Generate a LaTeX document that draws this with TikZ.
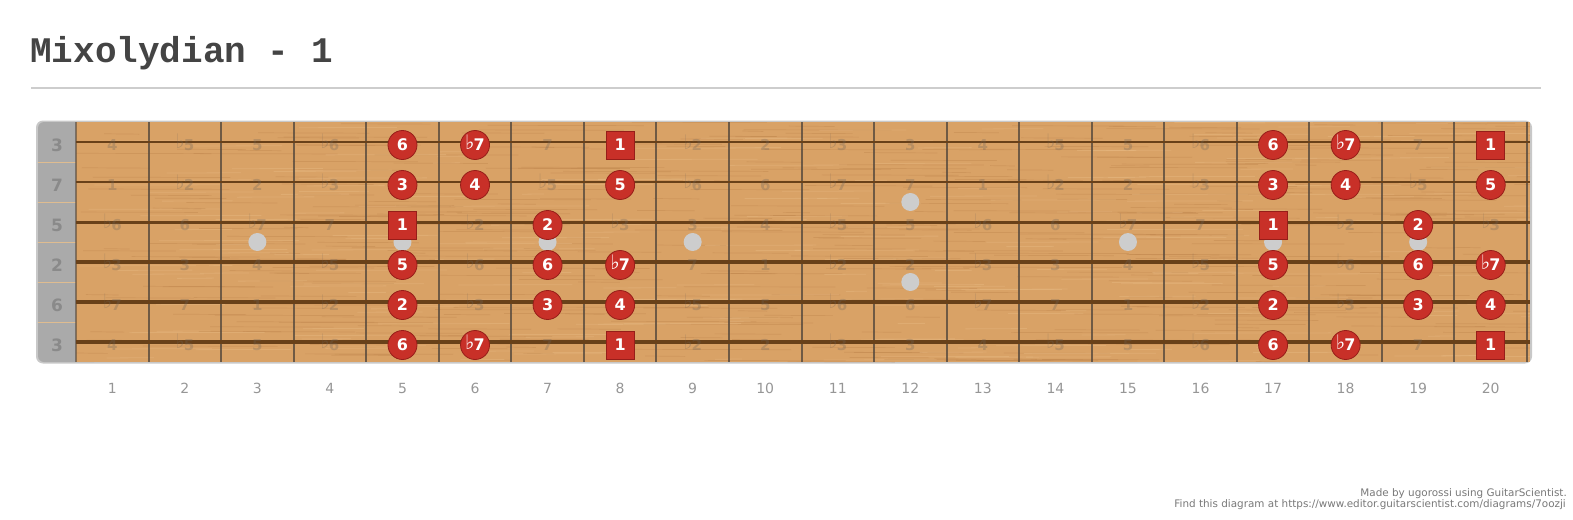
\documentclass[tikz,border=0pt]{standalone}
\usepackage{fontspec}
\setmainfont{DejaVu Sans}
\newfontfamily\titlefont{Liberation Mono}
\definecolor{wood}{RGB}{217,162,102}
\definecolor{wooddark}{RGB}{170,110,55}
\definecolor{woodlight}{RGB}{236,192,138}
\definecolor{stringcol}{RGB}{105,65,25}
\definecolor{fretcol}{RGB}{85,72,60}
\definecolor{nutgray}{RGB}{170,170,170}
\definecolor{nuttext}{RGB}{138,138,138}
\definecolor{framegray}{RGB}{200,200,200}
\definecolor{notered}{RGB}{200,48,40}
\definecolor{noteedge}{RGB}{150,30,25}
\definecolor{inlay}{RGB}{205,205,205}
\definecolor{titlegray}{RGB}{68,68,68}
\definecolor{sepgray}{RGB}{205,205,205}
\definecolor{numgray}{RGB}{150,150,150}
\definecolor{fadecol}{RGB}{110,100,90}
\newcommand\fl{\raisebox{1.5pt}[0pt][0pt]{\fontsize{20}{20}\selectfont ♭}\kern-1pt}
\newcommand\ivlname[1]{\ifcase#1 1\or \fl2\or 2\or \fl3\or 3\or 4\or \fl5\or 5\or \fl6\or 6\or \fl7\or 7\fi}
\newcommand\inscale[1]{\ifcase#1 1\or0\or1\or0\or1\or1\or0\or1\or0\or1\or1\or0\fi}
\tikzset{
  notecirc/.style={circle, fill=notered, draw=noteedge, line width=0.8pt, minimum size=29pt, inner sep=0pt, text=white, font=\bfseries\fontsize{16}{16}\selectfont},
  notesq/.style={rectangle, fill=notered, draw=noteedge, line width=0.8pt, minimum size=28pt, inner sep=0pt, text=white, font=\bfseries\fontsize{16}{16}\selectfont},
  fadelab/.style={inner sep=0pt, text=fadecol, text opacity=0.3, font=\bfseries\fontsize{15}{15}\selectfont},
  nutlab/.style={inner sep=0pt, text=nuttext, font=\bfseries\fontsize{17}{17}\selectfont},
  fretnum/.style={inner sep=0pt, text=numgray, font=\fontsize{14}{14}\selectfont},
  inlaydot/.style={circle, fill=inlay, minimum size=18pt, inner sep=0pt},
  credit/.style={inner sep=0pt, text=numgray!80!black, font=\fontsize{10.4}{11}\selectfont, anchor=base east}
}
\begin{document}
\begin{tikzpicture}[x=1pt,y=-1pt]
\useasboundingbox (0,0) rectangle (1573,519);
% title
\node[anchor=base west, inner sep=0pt, text=titlegray, font=\titlefont\bfseries\fontsize{36}{36}\selectfont] (title) at (30,63) {Mixolydian - 1};
\coordinate (sepL) at (31,88);
\coordinate (sepR) at (1541,88);
\draw[sepgray, line width=1.2pt] (sepL) -- (sepR);
% frame, nut, wood
\fill[framegray, rounded corners=7pt] (36,120.5) rectangle (1532,363.5);
\fill[nutgray, rounded corners=6pt] (38,122) rectangle (100,362);
\fill[wood] (76,122) rectangle (1530,362);
% grain
\pgfmathsetseed{7}
\begin{scope}
\clip (76,122) rectangle (1530,362);
\foreach \i in {1,...,420}{
  \pgfmathsetmacro\gx{76+rnd*1460}
  \pgfmathsetmacro\gy{122+rnd*240}
  \pgfmathsetmacro\gl{20+rnd*140}
  \draw[wooddark, opacity=0.22, line width=0.7pt] (\gx,\gy) -- ++(\gl,0.4);
}
\foreach \i in {1,...,250}{
  \pgfmathsetmacro\gx{76+rnd*1460}
  \pgfmathsetmacro\gy{122+rnd*240}
  \pgfmathsetmacro\gl{20+rnd*120}
  \draw[woodlight, opacity=0.35, line width=0.8pt] (\gx,\gy) -- ++(\gl,-0.3);
}
\end{scope}
% nut separators
\foreach \y in {162,202,242,282,322}{
  \draw[woodlight!80!nutgray, line width=0.5pt] (38,\y) -- (76,\y);
}
% nut labels
\foreach \s/\y/\l in {1/142/3,2/182/7,3/222/5,4/262/2,5/302/6,6/342/3}{
  \node[nutlab] (nut\s) at (57,\y+3) {\l};
}
% frets
\foreach \n in {1,...,20}{
  \pgfmathsetmacro\fx{76+72.55*\n}
  \draw[fretcol, opacity=0.8, line width=2pt] (\fx,122) -- (\fx,362);
}
\draw[fretcol, opacity=0.6, line width=1.2pt] (76,122) -- (76,362);
% inlay dots
\foreach \n/\y [count=\k] in {3/242,5/242,7/242,9/242,12/202,12/282,15/242,17/242,19/242}{
  \pgfmathsetmacro\fx{76+72.55*(\n-0.5)}
  \node[inlaydot] (dot\k) at (\fx,\y) {};
}
% strings
\foreach \s/\y/\w in {1/142/2.6,2/182/2.8,3/222/3,4/262/3.2,5/302/3.4,6/342/3.6}{
  \draw[stringcol, line width=\w pt] (76,\y) -- (1530,\y);
}
% notes and faded labels
\foreach \s/\y/\o in {1/142/4,2/182/11,3/222/7,4/262/2,5/302/9,6/342/4}{
  \foreach \n in {1,...,20}{
    \pgfmathsetmacro\fx{76+72.55*(\n-0.5)}
    \pgfmathtruncatemacro\m{mod(\o+\n,12)}
    \edef\ins{\inscale{\m}}
    \pgfmathtruncatemacro\reg{((\n>=5)&&(\n<=8))||(\n>=17)}
    \pgfmathtruncatemacro\vis{\reg*\ins}
    \ifnum\vis=1
      \ifnum\m=0
        \node[notesq] (n-\s-\n) at (\fx,\y+3) {1};
      \else
        \node[notecirc] (n-\s-\n) at (\fx,\y+3) {\ivlname{\m}};
      \fi
    \else
      \node[fadelab] (f-\s-\n) at (\fx,\y+3) {\ivlname{\m}};
    \fi
  }
}
% fret numbers
\foreach \n in {1,...,20}{
  \pgfmathsetmacro\fx{76+72.55*(\n-0.5)}
  \node[fretnum] (num\n) at (\fx,388) {\n};
}
% credits
\node[credit] (credit1) at (1567,496) {Made by ugorossi using GuitarScientist.};
\node[credit] (credit2) at (1566,507) {Find this diagram at https://www.editor.guitarscientist.com/diagrams/7oozji};
\end{tikzpicture}
\end{document}
